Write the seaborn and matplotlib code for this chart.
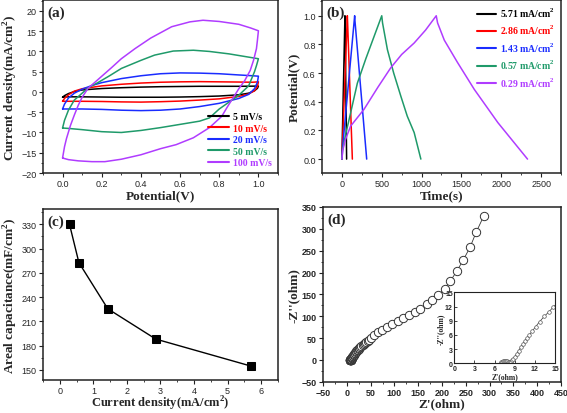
import numpy as np
import pandas as pd
import matplotlib
matplotlib.use("Agg")
import matplotlib.pyplot as plt
import seaborn as sns
from matplotlib.ticker import MultipleLocator

# ---------------- (a) CV curves ----------------
cv_labels = ["5 mV/s", "10 mV/s", "20 mV/s", "50 mV/s", "100 mV/s"]
cv_colors = ["#000000", "#ff0000", "#1a2cff", "#1f9a6a", "#b03cff"]

v5_up = [0, 0.01, 0.03, 0.06, 0.1, 0.2, 0.3, 0.4, 0.5, 0.6, 0.7, 0.8, 0.9, 1.0]
i5_up = [-1.3, -0.9, -0.4, 0.1, 0.5, 0.85, 1.05, 1.2, 1.3, 1.35, 1.4, 1.4, 1.4, 1.45]
v5_dn = [1.0, 0.995, 0.98, 0.95, 0.9, 0.8, 0.7, 0.6, 0.5, 0.4, 0.3, 0.2, 0.1, 0.03, 0]
i5_dn = [1.45, 0.9, 0.3, -0.3, -0.7, -1.0, -1.15, -1.25, -1.3, -1.3, -1.3, -1.25, -1.2, -1.2, -1.3]

v10_up = [0, 0.01, 0.03, 0.06, 0.1, 0.2, 0.3, 0.4, 0.5, 0.6, 0.7, 0.8, 0.9, 0.97, 1.0]
i10_up = [-2.3, -1.6, -0.7, 0.2, 0.8, 1.5, 1.9, 2.2, 2.4, 2.5, 2.55, 2.5, 2.45, 2.4, 2.5]
v10_dn = [1.0, 0.995, 0.98, 0.95, 0.9, 0.8, 0.7, 0.6, 0.5, 0.4, 0.3, 0.2, 0.1, 0.03, 0]
i10_dn = [2.5, 1.3, 0.3, -0.5, -1.1, -1.7, -2.0, -2.25, -2.4, -2.5, -2.45, -2.35, -2.3, -2.3, -2.3]

v20_up = [0, 0.01, 0.03, 0.06, 0.1, 0.15, 0.2, 0.3, 0.4, 0.5, 0.6, 0.7, 0.8, 0.9, 0.97, 1.0]
i20_up = [-4.2, -3.0, -1.5, -0.3, 0.7, 1.6, 2.3, 3.3, 4.0, 4.5, 4.7, 4.65, 4.5, 4.2, 4.0, 3.9]
v20_dn = [1.0, 0.995, 0.98, 0.95, 0.9, 0.85, 0.8, 0.7, 0.6, 0.5, 0.4, 0.3, 0.2, 0.1, 0.03, 0]
i20_dn = [3.9, 2.4, 0.8, -0.6, -1.6, -2.2, -2.8, -3.6, -4.2, -4.5, -4.6, -4.5, -4.3, -4.2, -4.2, -4.2]

v50_up = [0, 0.01, 0.03, 0.06, 0.1, 0.13, 0.18, 0.24, 0.3, 0.4, 0.47, 0.565, 0.668, 0.75, 0.85, 0.95, 1.0]
i50_up = [-8.9, -7.0, -4.5, -2.0, -0.3, 1.0, 2.3, 4.0, 5.8, 7.8, 9.1, 10.1, 10.3, 10.0, 9.4, 8.6, 8.2]
v50_dn = [1.0, 0.99, 0.98, 0.95, 0.9, 0.85, 0.8, 0.75, 0.7, 0.6, 0.5, 0.4, 0.3, 0.2, 0.1, 0.03, 0]
i50_dn = [8.2, 6.5, 5.0, 1.5, -0.8, -2.5, -4.2, -6.4, -7.2, -8.0, -8.8, -9.5, -10.0, -9.8, -9.3, -9.0, -8.9]

v100_up = [0, 0.01, 0.02, 0.04, 0.06, 0.08, 0.1, 0.13, 0.17, 0.21, 0.25, 0.3, 0.37, 0.45, 0.557, 0.65, 0.717, 0.8, 0.9, 0.96, 1.0]
i100_up = [-16.3, -13.5, -11.5, -8.3, -5.7, -3.3, -1.3, 0.9, 2.6, 4.3, 6.0, 8.2, 10.7, 13.3, 16.1, 17.3, 17.7, 17.4, 16.7, 15.8, 15.1]
v100_dn = [1.0, 0.995, 0.99, 0.975, 0.958, 0.93, 0.9, 0.87, 0.84, 0.813, 0.75, 0.668, 0.58, 0.5, 0.4, 0.3, 0.216, 0.15, 0.08, 0.03, 0]
i100_dn = [15.1, 12.8, 10.7, 7.8, 5.3, 2.8, 0.8, -1.5, -3.8, -6.0, -8.8, -11.3, -13.0, -14.0, -15.5, -16.6, -17.2, -17.2, -17.0, -16.7, -16.3]

cv_v = [v5_up + v5_dn, v10_up + v10_dn, v20_up + v20_dn, v50_up + v50_dn, v100_up + v100_dn]
cv_i = [i5_up + i5_dn, i10_up + i10_dn, i20_up + i20_dn, i50_up + i50_dn, i100_up + i100_dn]

# ---------------- (b) GCD curves ----------------
gcd_labels = ["5.71 mA/cm$^{\\mathbf{2}}$", "2.86 mA/cm$^{\\mathbf{2}}$", "1.43 mA/cm$^{\\mathbf{2}}$",
              "0.57 mA/cm$^{\\mathbf{2}}$", "0.29 mA/cm$^{\\mathbf{2}}$"]
t571 = [0, 5, 38, 40, 59]
u571 = [0, 0.15, 1.0, 0.97, 0]
t286 = [0, 8, 68, 71, 131]
u286 = [0, 0.12, 1.0, 0.96, 0]
t143 = [0, 5, 160, 163, 311]
u143 = [0, 0.06, 1.0, 0.97, 0]
t057 = [0, 10, 50, 100, 194, 300, 400, 500, 510, 571, 650, 739, 820, 907, 991]
u057 = [0, 0.07, 0.18, 0.3, 0.53, 0.7, 0.85, 1.0, 0.95, 0.764, 0.6, 0.44, 0.3, 0.185, 0]
t029 = [0, 10, 40, 109, 277, 450, 613, 750, 907, 1050, 1184, 1201, 1285, 1450, 1662, 1800, 1957, 2150, 2330]
u029 = [0, 0.06, 0.13, 0.23, 0.347, 0.5, 0.637, 0.73, 0.81, 0.9, 1.0, 0.95, 0.83, 0.675, 0.486, 0.378, 0.255, 0.123, 0]
gcd_t = [t571, t286, t143, t057, t029]
gcd_u = [u571, u286, u143, u057, u029]

# ---------------- (c) areal capacitance ----------------
cur_density = [0.29, 0.57, 1.43, 2.86, 5.71]
areal_cap = [330, 282.6, 225.5, 188, 154.4]

# ---------------- (d) Nyquist ----------------
z_re = [6.9, 7.0, 7.1, 7.2, 7.35, 7.5, 7.65, 7.8, 7.95, 8.1, 8.25, 8.4, 8.6, 8.8, 9.0, 9.3, 9.6, 9.9,
        10.2, 10.5, 10.8, 11.2, 11.6, 12.1, 12.7, 13.4, 14.1, 14.7, 15.5, 16.5, 17.6, 18.8, 20.0, 21.5,
        23.0, 24.7, 26.5, 28.5, 30.7, 33.0, 35.5, 38.2, 41.0, 44.0, 47.3, 51, 58, 66, 74.5, 85, 95.5,
        107, 118.5, 130, 143, 154, 167.5, 178.7, 192, 206, 217.8, 231, 244.4, 259, 271.7, 288]
z_im = [0.0, 0.25, 0.38, 0.45, 0.5, 0.5, 0.48, 0.43, 0.35, 0.28, 0.22, 0.3, 0.6, 1.0, 1.4, 2.0, 2.7, 3.4,
        4.0, 4.7, 5.3, 6.0, 6.8, 7.7, 8.8, 9.9, 10.9, 11.8, 13.0, 14.6, 16.2, 18.0, 19.7, 21.6,
        23.5, 25.6, 27.7, 29.8, 32.0, 34.2, 36.4, 38.8, 41.2, 43.6, 46.1, 50, 57, 63, 69, 76, 82,
        89, 96, 103, 109, 117, 128, 138, 149, 163, 181, 203, 228, 258, 292, 330]

# ---------------- style ----------------
sns.set_style("ticks")
plt.rcParams['font.family'] = ['Liberation Sans', 'DejaVu Sans']
plt.rcParams['mathtext.fontset'] = 'custom'
plt.rcParams['mathtext.rm'] = 'Liberation Serif'
plt.rcParams['mathtext.bf'] = 'Liberation Serif:bold'
plt.rcParams['axes.linewidth'] = 1.1
plt.rcParams['axes.edgecolor'] = '#222222'

SERIF = ['Liberation Serif', 'DejaVu Serif']
LAB = dict(family=SERIF, weight='bold', size=9.5)
TICK = 6.5


def style_axes(ax, xmaj, xmin, ymaj, ymin, bold_ticks=False, size=TICK):
    ax.xaxis.set_major_locator(MultipleLocator(xmaj))
    ax.xaxis.set_minor_locator(MultipleLocator(xmin))
    ax.yaxis.set_major_locator(MultipleLocator(ymaj))
    ax.yaxis.set_minor_locator(MultipleLocator(ymin))
    ax.tick_params(which='major', direction='out', length=3, width=0.8, labelsize=size, pad=1.5,
                   color='#222222')
    ax.tick_params(which='minor', direction='out', length=1.6, width=0.6, color='#222222')
    for lab in ax.get_xticklabels() + ax.get_yticklabels():
        lab.set_family(['Liberation Sans', 'DejaVu Sans'])
        if bold_ticks:
            lab.set_weight('bold')
    for sp in ax.spines.values():
        sp.set_visible(True)


fig = plt.figure(figsize=(5.67, 4.14), dpi=100)
axA = fig.add_axes([0.0758, 0.5797, 0.4145, 0.4179])
axB = fig.add_axes([0.5679, 0.5797, 0.4215, 0.4179])
axC = fig.add_axes([0.0758, 0.0790, 0.4145, 0.4138])
axD = fig.add_axes([0.5697, 0.0756, 0.4197, 0.4220])

# (a)
for v, i, c, lab in zip(cv_v, cv_i, cv_colors, cv_labels):
    sns.lineplot(x=v, y=i, sort=False, estimator=None, color=c, lw=1.1, ax=axA, label=lab)
axA.set_xlim(-0.1, 1.1)
axA.set_ylim(-20, 22.7)
style_axes(axA, 0.2, 0.1, 5, 2.5)
axA.set_xlabel("Potential(V)", **LAB, labelpad=1)
axA.set_ylabel("Current density(mA/cm$^{\\mathbf{2}}$)", **LAB, labelpad=1)
leg = axA.legend(loc='lower right', frameon=False, prop=dict(family=SERIF, weight='bold', size=7),
                 handlelength=2.2, handletextpad=0.4, labelspacing=0.25, borderaxespad=0.2)
for t, l in zip(leg.get_texts(), leg.get_lines()):
    t.set_color(l.get_color())
    l.set_linewidth(1.5)
axA.text(0.02, 0.97, "(a)", transform=axA.transAxes, ha='left', va='top', family=SERIF,
         weight='bold', size=11)

# (b)
for t, u, c, lab in zip(gcd_t, gcd_u, cv_colors, gcd_labels):
    sns.lineplot(x=t, y=u, sort=False, estimator=None, color=c, lw=1.1, ax=axB, label=lab)
axB.set_xlim(-250, 2750)
axB.set_ylim(-0.097, 1.11)
style_axes(axB, 500, 250, 0.2, 0.1)
axB.set_xlabel("Time(s)", **LAB, labelpad=1)
axB.set_ylabel("Potential(V)", **LAB, labelpad=2)
leg = axB.legend(loc='upper right', frameon=False, prop=dict(family=SERIF, weight='bold', size=7),
                 handlelength=2.0, handletextpad=0.4, labelspacing=0.45, borderaxespad=0.2)
for t, l in zip(leg.get_texts(), leg.get_lines()):
    t.set_color(l.get_color())
    l.set_linewidth(1.5)
axB.text(0.02, 0.97, "(b)", transform=axB.transAxes, ha='left', va='top', family=SERIF,
         weight='bold', size=11)

# (c)
sns.lineplot(x=cur_density, y=areal_cap, sort=False, estimator=None, color='black', lw=1.0,
             marker='s', markersize=5.5, markeredgecolor='black', ax=axC)
axC.set_xlim(-0.5, 6.5)
axC.set_ylim(137, 349)
style_axes(axC, 1, 0.5, 30, 15)
axC.tick_params(axis='x', which='major', pad=1)
axC.set_xlabel("Current density(mA/cm$^{\\mathbf{2}}$)", family=SERIF, weight='bold', size=9,
               labelpad=-1)
axC.set_ylabel("Areal capacitance(mF/cm$^{\\mathbf{2}}$)", **LAB, labelpad=1)
axC.text(0.02, 0.97, "(c)", transform=axC.transAxes, ha='left', va='top', family=SERIF,
         weight='bold', size=11)

# (d)
sns.lineplot(x=z_re, y=z_im, sort=False, estimator=None, color='#333333', lw=0.6,
             marker='o', markersize=6, markerfacecolor='white', markeredgecolor='#333333',
             markeredgewidth=0.7, ax=axD)
axD.set_xlim(-50, 450)
axD.set_ylim(-50, 350)
style_axes(axD, 50, 25, 50, 25, bold_ticks=True)
axD.set_xlabel("Z'(ohm)", **LAB, labelpad=0)
axD.set_ylabel("-Z''(ohm)", **LAB, labelpad=1)
axD.text(0.02, 0.97, "(d)", transform=axD.transAxes, ha='left', va='top', family=SERIF,
         weight='bold', size=11)

axI = fig.add_axes([0.8012, 0.1200, 0.1776, 0.1715])
sns.lineplot(x=z_re, y=z_im, sort=False, estimator=None, color='#333333', lw=0.5,
             marker='o', markersize=2.6, markerfacecolor='white', markeredgecolor='#555555',
             markeredgewidth=0.5, ax=axI)
axI.set_xlim(0, 15)
axI.set_ylim(0, 15)
axI.xaxis.set_major_locator(MultipleLocator(3))
axI.yaxis.set_major_locator(MultipleLocator(3))
axI.tick_params(which='major', direction='in', length=2, width=0.6, labelsize=5, pad=1)
for lab in axI.get_xticklabels() + axI.get_yticklabels():
    lab.set_weight('bold')
axI.set_xlabel("Z'(ohm)", family=SERIF, weight='bold', size=5.5, labelpad=0)
axI.set_ylabel("-Z''(ohm)", family=SERIF, weight='bold', size=5.5, labelpad=0)
for sp in axI.spines.values():
    sp.set_linewidth(0.8)

fig.savefig("out.png", dpi=100)
